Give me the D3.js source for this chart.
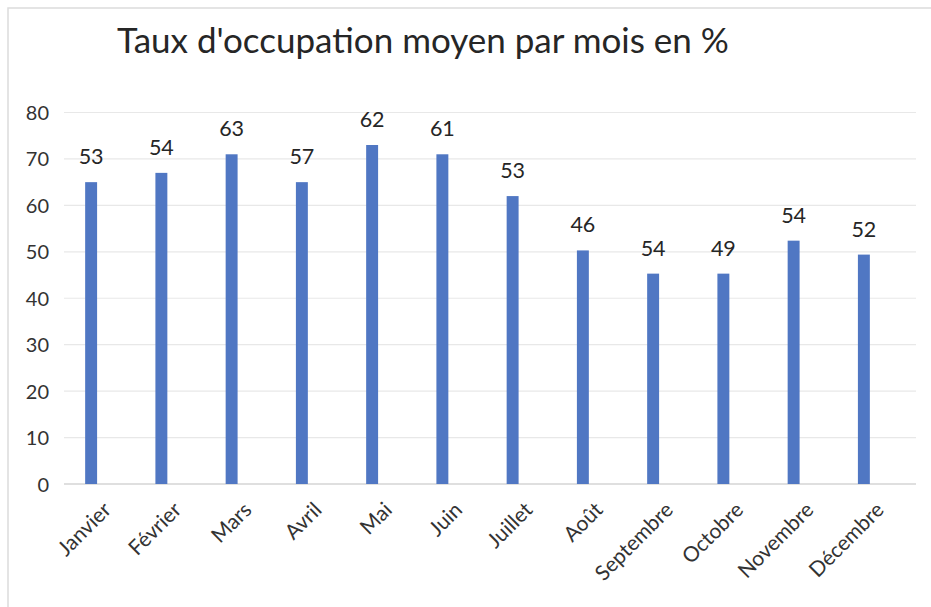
<!DOCTYPE html>
<html><head><meta charset="utf-8">
<script src="https://cdn.jsdelivr.net/npm/d3@7"></script>
<style>
html,body{margin:0;padding:0;background:#fff;}
svg text{font-family:Lato,"Open Sans",sans-serif;}
</style></head>
<body>
<svg id="c" width="931" height="607"></svg>
<script>
const months = ["Janvier","Février","Mars","Avril","Mai","Juin","Juillet","Août","Septembre","Octobre","Novembre","Décembre"];
const barValues = [65, 67, 71, 65, 73, 71, 62, 50.3, 45.3, 45.3, 52.4, 49.4];
const dataLabels = ["53","54","63","57","62","61","53","46","54","49","54","52"];
const yTicks = [0,10,20,30,40,50,60,70,80];
const title = "Taux d'occupation moyen par mois en %";

const svg = d3.select("#c");
const W = 931, H = 607;

// chart border
svg.append("path").attr("d", `M8,${H} L8,8 L${W},8`).attr("fill","none").attr("stroke","#dcdcdc").attr("stroke-width",1.5);

const x = d3.scaleBand().domain(months).range([56, 899]).paddingInner(0.83).paddingOuter(0.415);
const y = d3.scaleLinear().domain([0, 80]).range([484, 112.5]);

// gridlines
svg.append("g").selectAll("line").data(yTicks).join("line")
  .attr("x1", 64).attr("x2", 916)
  .attr("y1", d => y(d)).attr("y2", d => y(d))
  .attr("stroke", d => d === 0 ? "#d4d4d4" : "#e8e8e8").attr("stroke-width", d => d===0?1.5:1.2);

// y axis labels
const yAxis = d3.axisLeft(y).tickValues(yTicks).tickSize(0).tickPadding(0);
const gy = svg.append("g").attr("transform","translate(49,0)").call(yAxis);
gy.select(".domain").remove();
gy.selectAll("text").attr("font-size", 20).attr("fill", "#333").attr("dy","0.35em");

// bars
svg.append("g").selectAll("rect").data(months).join("rect")
  .attr("x", d => x(d)).attr("width", x.bandwidth())
  .attr("y", (d,i) => y(barValues[i])).attr("height", (d,i) => y(0) - y(barValues[i]))
  .attr("fill", "#5077c3");

// data labels
svg.append("g").selectAll("text").data(months).join("text")
  .attr("x", d => x(d) + x.bandwidth()/2)
  .attr("y", (d,i) => y(barValues[i]) - 18)
  .attr("text-anchor","middle").attr("font-size", 21.5).attr("fill","#262626")
  .text((d,i) => dataLabels[i]);

// x axis labels
const xAxis = d3.axisBottom(x).tickSize(0).tickPadding(0);
const gx = svg.append("g").attr("transform","translate(0,500)").call(xAxis);
gx.select(".domain").remove();
gx.selectAll("text")
  .attr("font-size", 21).attr("fill","#333")
  .attr("text-anchor","end")
  .attr("dy","0.35em")
  .attr("transform","translate(16,6) rotate(-45)")
  .attr("x",0).attr("y",0);

// title
svg.append("text").attr("x", 117).attr("y", 53)
  .attr("font-size", 35).attr("fill","#262626").text(title);
</script>
</body></html>
